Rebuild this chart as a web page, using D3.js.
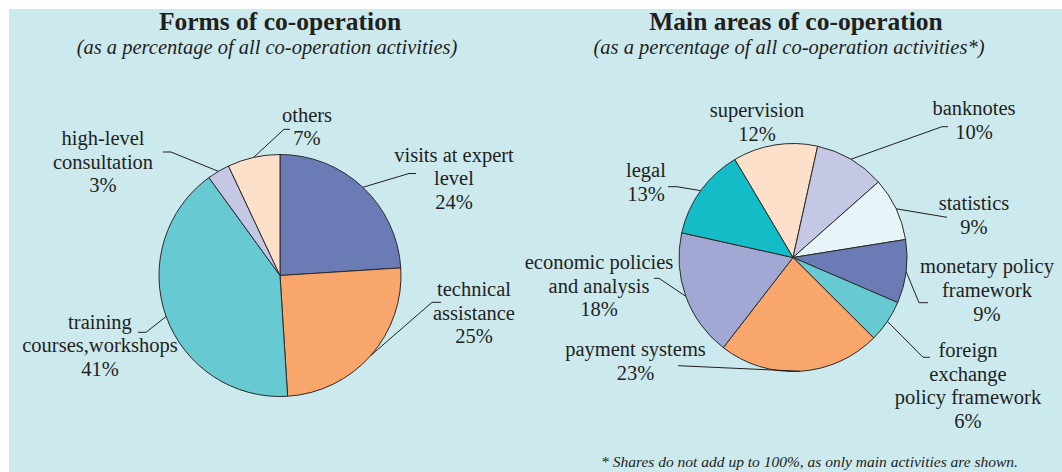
<!DOCTYPE html>
<html>
<head>
<meta charset="utf-8">
<script src="https://cdn.jsdelivr.net/npm/d3@7"></script>
<style>
  html, body { margin: 0; padding: 0; background: #ffffff; }
  svg { display: block; }
  text { font-family: "Liberation Serif", "Times New Roman", serif; fill: #231f20; }
</style>
</head>
<body>
<svg id="chart" width="1062" height="472"></svg>
<script>
// Forms of co-operation (share of all co-operation activities, %)
const formsCategories = ["visits at expert level", "technical assistance", "training courses,workshops", "high-level consultation", "others"];
const formsValues = [24, 25, 41, 3, 7];

// Main areas of co-operation (share of all co-operation activities, %)
const areasCategories = ["supervision", "banknotes", "statistics", "monetary policy framework", "foreign exchange policy framework", "payment systems", "economic policies and analysis", "legal"];
const areasValues = [12, 10, 9, 9, 6, 23, 18, 13];

// Label text, split into lines as set on the page
const formsLabelLines = [["visits at expert", "level"], ["technical", "assistance"], ["training", "courses,workshops"], ["high-level", "consultation"], ["others"]];
const areasLabelLines = [["supervision"], ["banknotes"], ["statistics"], ["monetary policy", "framework"], ["foreign", "exchange", "policy framework"], ["payment systems"], ["economic policies", "and analysis"], ["legal"]];

// Slice colours
const formsColors = ["#6b7bb6", "#f9a66d", "#67c9d1", "#c4c8e4", "#fde0c9"];
const areasColors = ["#fde0c9", "#c4c8e4", "#e7f5f9", "#6b7bb6", "#67c9d1", "#f9a66d", "#a1a8d3", "#13bcc7"];

// Layout: label anchor (centre x, first baseline) and leader-line elbow/end
const formsLayout = [
  { x: 454, y: 161.5, elbow: [409, 173.5], end: [416, 173.5] },
  { x: 474, y: 296,   elbow: [432, 302.3], end: [441, 302.3] },
  { x: 100, y: 328.5, elbow: [146, 332.3], end: [138, 332.3] },
  { x: 103, y: 145,   elbow: [171, 152],   end: [163, 152] },
  { x: 307, y: 121.7, elbow: [284, 129.3], end: [290, 129.3] }
];
const areasLayout = [
  { x: 757, y: 117.3, elbow: null, end: null },
  { x: 974, y: 115,   elbow: [942, 126.7], end: [948, 126.7] },
  { x: 974, y: 210,   elbow: [947, 217.3], end: [947, 217.3] },
  { x: 987, y: 273.3, elbow: [919, 302.7], end: [928, 302.7] },
  { x: 968, y: 357,   elbow: [923, 357.3], end: [930, 357.3] },
  { x: 635.5, y: 356, elbow: [678, 365.7], end: [678, 365.7] },
  { x: 599, y: 269,   elbow: [659, 278.3], end: [654, 278.3] },
  { x: 646, y: 177.3, elbow: [677, 186.7], end: [668, 186.7] }
];

const W = 1062, H = 472;
const svg = d3.select("#chart");
const lineStep = 23.6;

// Panel background
svg.append("rect").attr("x", 9).attr("y", 9).attr("width", W - 9).attr("height", H - 9).attr("fill", "#cce9ee");

function drawPie(opts) {
  const { cx, cy, r, categories, values, colors, lines, layout, start } = opts;
  const data = categories.map((c, i) => ({ name: c, value: values[i], color: colors[i], lines: lines[i], layout: layout[i] }));
  const pie = d3.pie().sort(null).value(d => d.value).startAngle(start).endAngle(start + 2 * Math.PI);
  const arcs = pie(data);
  const arc = d3.arc().innerRadius(0).outerRadius(r);
  const g = svg.append("g").attr("transform", `translate(${cx},${cy})`);

  g.selectAll("path.slice").data(arcs).join("path")
    .attr("class", "slice")
    .attr("d", arc)
    .attr("fill", d => d.data.color)
    .attr("stroke", "#2b2b2b")
    .attr("stroke-width", 1)
    .attr("stroke-linejoin", "round");

  // Leader lines from the middle of each slice's rim to its label
  arcs.forEach(d => {
    const L = d.data.layout;
    if (!L.elbow) return;
    const mid = (d.startAngle + d.endAngle) / 2;
    const sx = cx + r * Math.sin(mid), sy = cy - r * Math.cos(mid);
    svg.append("path")
      .attr("d", d3.line()([[sx, sy], L.elbow, L.end]))
      .attr("fill", "none")
      .attr("stroke", "#231f20")
      .attr("stroke-width", 1);
  });

  // Labels: name lines followed by the percentage
  arcs.forEach(d => {
    const L = d.data.layout;
    const rows = d.data.lines.concat([d.data.value + "%"]);
    const t = svg.append("text").attr("text-anchor", "middle").attr("font-size", 20.5);
    rows.forEach((row, k) => {
      t.append("tspan").attr("x", L.x).attr("y", L.y + k * lineStep).text(row);
    });
  });
}

drawPie({ cx: 280, cy: 275.5, r: 121, categories: formsCategories, values: formsValues, colors: formsColors, lines: formsLabelLines, layout: formsLayout, start: 0 });
drawPie({ cx: 793, cy: 257.5, r: 114, categories: areasCategories, values: areasValues, colors: areasColors, lines: areasLabelLines, layout: areasLayout, start: -30.7 * Math.PI / 180 });

// Titles
svg.append("text").attr("x", 280).attr("y", 30).attr("text-anchor", "middle")
  .attr("font-size", 25.5).attr("font-weight", "bold").text("Forms of co-operation");
svg.append("text").attr("x", 267).attr("y", 54).attr("text-anchor", "middle")
  .attr("font-size", 20.5).attr("font-style", "italic").text("(as a percentage of all co-operation activities)");
svg.append("text").attr("x", 796).attr("y", 30).attr("text-anchor", "middle")
  .attr("font-size", 25.5).attr("font-weight", "bold").text("Main areas of co-operation");
svg.append("text").attr("x", 789).attr("y", 54).attr("text-anchor", "middle")
  .attr("font-size", 20.5).attr("font-style", "italic").text("(as a percentage of all co-operation activities*)");

// Footnote
svg.append("text").attr("x", 1018).attr("y", 466.5).attr("text-anchor", "end")
  .attr("font-size", 15.5).attr("font-style", "italic")
  .text("* Shares do not add up to 100%, as only main activities are shown.");
</script>
</body>
</html>
